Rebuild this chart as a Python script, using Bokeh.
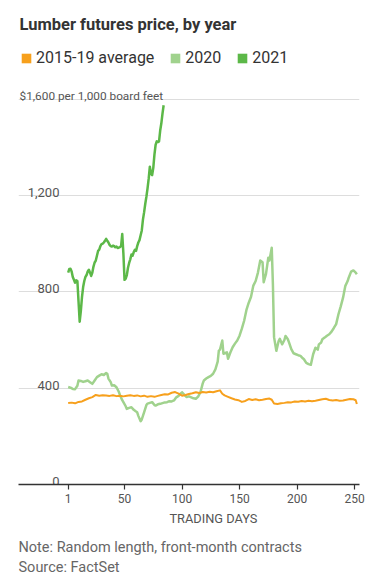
from bokeh.plotting import figure
from bokeh.models import Range1d, Label, Legend, LegendItem, FixedTicker, Grid
from bokeh.layouts import column
from bokeh.core.properties import value
from bokeh.embed import file_html
from bokeh.resources import INLINE

title_text = "Lumber futures price, by year"
series_names = ["2015-19 average", "2020", "2021"]
series_colors = ["#f7a01c", "#a0d28d", "#5cb848"]

days_avg = [1, 4, 7, 10, 13, 16, 19, 22, 25, 28, 31, 34, 37, 40, 43, 46, 49, 52, 55, 58,
            61, 64, 67, 70, 73, 76, 79, 82, 85, 88, 91, 94, 97, 100, 103, 106, 109, 112,
            115, 118, 121, 124, 127, 130, 133, 135, 137, 140, 143, 146, 149, 152, 155,
            158, 161, 164, 167, 170, 173, 176, 178, 180, 183, 186, 189, 192, 195, 198,
            201, 204, 207, 210, 213, 216, 219, 222, 225, 228, 231, 234, 237, 240, 243,
            246, 249, 251, 252]
vals_avg = [338, 340, 337, 343, 345, 352, 358, 363, 372, 369, 371, 370, 368, 371, 367,
            369, 366, 369, 371, 368, 370, 366, 369, 364, 367, 364, 368, 372, 375, 374,
            381, 384, 377, 369, 372, 376, 379, 383, 380, 384, 382, 385, 383, 387, 391,
            377, 370, 364, 358, 353, 350, 343, 347, 355, 351, 354, 350, 352, 355, 357,
            352, 336, 334, 337, 339, 342, 341, 345, 344, 347, 345, 348, 346, 348, 351,
            354, 356, 351, 349, 351, 348, 349, 352, 355, 354, 350, 334]

days_2020 = [1, 3, 5, 7, 9, 10, 12, 14, 16, 18, 20, 22, 24, 26, 28, 30, 32, 34, 35, 36,
             38, 39, 41, 43, 45, 46, 48, 49, 51, 52, 54, 56, 58, 60, 61, 62, 64, 65, 67,
             69, 70, 72, 74, 76, 77, 79, 81, 83, 85, 87, 89, 91, 93, 95, 97, 99, 100,
             102, 104, 106, 108, 110, 112, 114, 116, 118, 119, 121, 123, 125, 127, 129,
             131, 132, 133, 135, 136, 137, 139, 140, 142, 144, 146, 148, 150, 152, 154,
             156, 158, 160, 162, 164, 166, 168, 170, 171, 173, 175, 176, 178, 179, 180,
             182, 184, 185, 187, 189, 190, 192, 193, 195, 197, 199, 201, 203, 205, 206,
             208, 210, 212, 214, 216, 218, 219, 221, 222, 224, 226, 228, 230, 232, 234,
             236, 238, 240, 242, 244, 245, 247, 249, 251, 252]
vals_2020 = [405, 402, 397, 396, 410, 432, 430, 426, 429, 432, 425, 418, 432, 446, 452,
             458, 455, 463, 460, 440, 425, 411, 412, 404, 385, 372, 350, 342, 325, 314,
             318, 321, 310, 303, 300, 285, 263, 270, 300, 330, 336, 339, 342, 330, 328,
             333, 335, 338, 341, 342, 346, 345, 349, 362, 368, 378, 383, 372, 363, 366,
             362, 358, 356, 365, 383, 420, 432, 440, 446, 451, 460, 478, 510, 556, 560,
             598, 543, 545, 549, 522, 548, 570, 585, 598, 618, 647, 680, 725, 755, 780,
             826, 845, 880, 930, 923, 840, 875, 942, 930, 983, 832, 612, 555, 596, 605,
             582, 600, 617, 603, 590, 562, 545, 541, 537, 534, 524, 520, 505, 500, 497,
             541, 568, 560, 582, 590, 603, 610, 618, 624, 635, 650, 666, 707, 740, 776,
             825, 845, 860, 884, 889, 880, 873]

days_2021 = list(range(1, 85))
vals_2021 = [880, 895, 896, 885, 862, 850, 838, 848, 845, 760, 676, 720, 778, 820, 845,
             862, 870, 885, 892, 880, 866, 880, 905, 922, 930, 950, 970, 975, 990, 998,
             1000, 1005, 1012, 1020, 1012, 1005, 995, 990, 988, 992, 990, 985, 988, 982,
             984, 986, 990, 1040, 960, 850, 855, 870, 900, 920, 935, 955, 950, 965, 975,
             970, 990, 1005, 1015, 1035, 1055, 1100, 1130, 1165, 1195, 1230, 1270, 1320,
             1290, 1285, 1315, 1370, 1410, 1425, 1422, 1425, 1470, 1500, 1540, 1575]

y_ticks = [0, 400, 800, 1200]
y_tick_labels = ["0", "400", "800", "1,200"]
y_top_tick = 1600
y_top_label = "$1,600 per 1,000 board feet"
x_ticks = [1, 50, 100, 150, 200, 250]
x_title = "TRADING DAYS"
note_text = "Note: Random length, front-month contracts"
source_text = "Source: FactSet"

FONT = "Roboto"
X_RANGE = (-42.2, 254.3)

p = figure(width=383, height=510, output_backend="svg", toolbar_location=None,
           x_range=Range1d(*X_RANGE), y_range=Range1d(0, 2010),
           y_axis_location=None,
           min_border_left=18, min_border_right=24, min_border_top=0,
           min_border_bottom=26)
p.outline_line_color = None
p.grid.visible = False

p.add_layout(Grid(dimension=1, ticker=FixedTicker(ticks=y_ticks[1:] + [y_top_tick]),
                  grid_line_color="#dddddd", grid_line_width=1))

ax = p.xaxis[0]
ax.ticker = FixedTicker(ticks=x_ticks)
ax.axis_line_color = "#333333"
ax.axis_line_width = 1.5
ax.major_tick_line_color = "#333333"
ax.major_tick_line_width = 1.2
ax.major_tick_in = 0
ax.major_tick_out = 5
ax.minor_tick_line_color = None
ax.major_label_text_font = FONT
ax.major_label_text_font_size = "12px"
ax.major_label_text_color = "#555555"
ax.major_label_standoff = 4

# lines
p.line(days_2020, vals_2020, line_color=series_colors[1], line_width=2.5,
       line_join="round")
p.line(days_avg, vals_avg, line_color=series_colors[0], line_width=2,
       line_join="round")
p.line(days_2021, vals_2021, line_color=series_colors[2], line_width=2.5,
       line_join="round")

# y tick labels inside plot
p.text(x=[-6.6] * len(y_ticks), y=y_ticks, text=y_tick_labels,
       text_align="right", text_baseline="alphabetic", y_offset=-3,
       text_font=value(FONT), text_font_size="13px", text_color="#555555")
p.text(x=[X_RANGE[0] + 0.9], y=[y_top_tick], text=[y_top_label],
       text_align="left", text_baseline="alphabetic", y_offset=-3,
       text_font=value(FONT), text_font_size="11.8px", text_color="#555555")

# legend with squares (renderers carry no visible data point)
nan = float("nan")
legend_rs = []
for c in series_colors:
    legend_rs.append(p.quad(left=[nan], right=[nan], top=[nan], bottom=[nan],
                            fill_color=c, line_color=None))
legend = Legend(items=[LegendItem(label=n, renderers=[r])
                       for n, r in zip(series_names, legend_rs)],
                orientation="horizontal", location=(2, 417),
                glyph_width=12, glyph_height=12, label_standoff=4, spacing=15,
                padding=0, margin=0, border_line_color=None,
                background_fill_alpha=0, label_text_font=FONT,
                label_text_font_size="16px", label_text_color="#333333")
p.add_layout(legend, "center")

# title (frame-relative screen units)
p.add_layout(Label(x=1, y=459.7, x_units="screen", y_units="screen", text=title_text,
                   text_font=FONT, text_font_size="16.5px", text_font_style="bold",
                   text_color="#333333", text_baseline="alphabetic"))

# footer
f = figure(width=383, height=77, output_backend="svg", toolbar_location=None,
           x_range=Range1d(*X_RANGE), y_range=Range1d(77, 0),
           x_axis_location=None, y_axis_location=None,
           min_border_left=18, min_border_right=24, min_border_top=0,
           min_border_bottom=0)
f.outline_line_color = None
f.grid.visible = False
f.text(x=[127.3], y=[8.0], text=[x_title], text_align="center",
       text_baseline="alphabetic", text_font=value(FONT), text_font_size="12.8px",
       text_color="#555555")
f.text(x=[X_RANGE[0], X_RANGE[0]], y=[37.0, 57.0], text=[note_text, source_text],
       text_align="left", text_baseline="alphabetic", text_font=value(FONT),
       text_font_size="14.5px", text_color="#666666")

layout = column(p, f, spacing=0)
open("out.html", "w").write(file_html(layout, INLINE))
